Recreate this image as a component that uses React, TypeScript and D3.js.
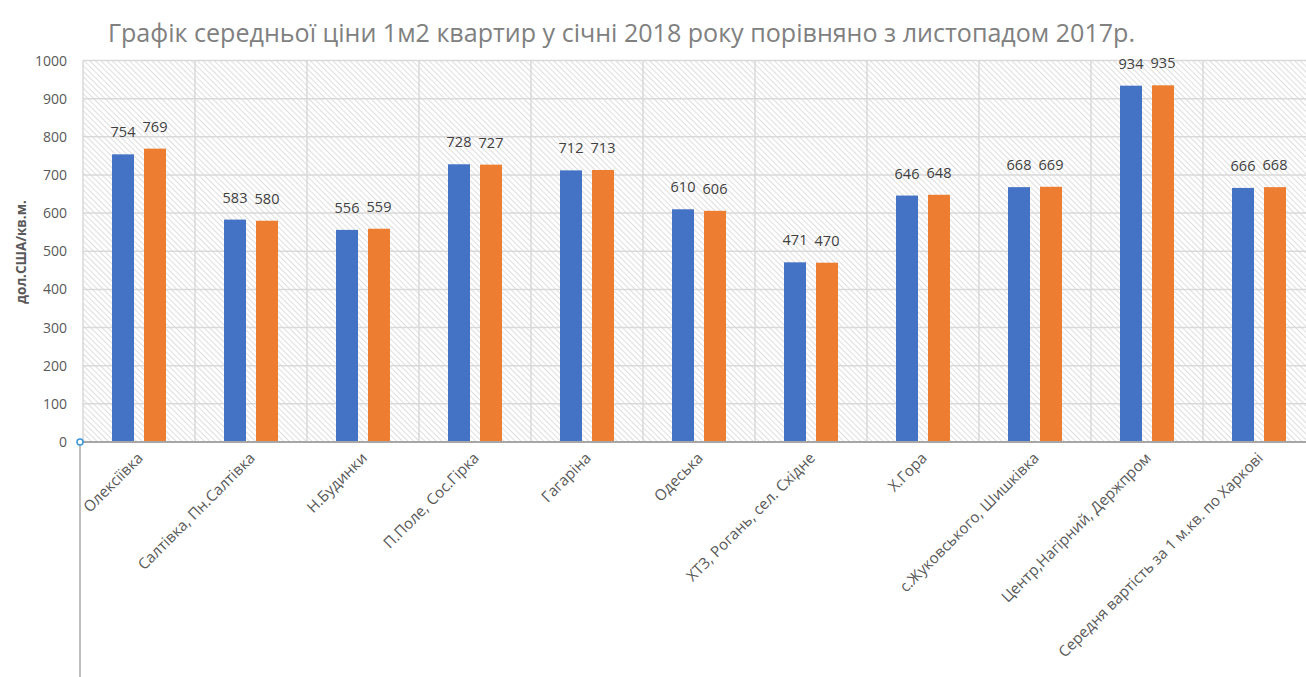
import React from 'react';
import { scaleBand, scaleLinear, range } from 'd3';

const districts = [
  'Олексіївка',
  'Салтівка, Пн.Салтівка',
  'Н.Будинки',
  'П.Поле, Сос.Гірка',
  'Гагаріна',
  'Одеська',
  'ХТЗ, Рогань, сел. Східне',
  'Х.Гора',
  'с.Жуковського, Шишківка',
  'Центр,Нагірний, Держпром',
  'Середня вартість за 1 м.кв. по Харкові',
];
const november2017 = [754, 583, 556, 728, 712, 610, 471, 646, 668, 934, 666];
const january2018 = [769, 580, 559, 727, 713, 606, 470, 648, 669, 935, 668];
const yTicks = [0, 100, 200, 300, 400, 500, 600, 700, 800, 900, 1000];

const title = 'Графік середньої ціни 1м2 квартир у січні 2018 року порівняно з листопадом 2017р.';
const yTitle = 'дол.США/кв.м.';

const W = 1306;
const H = 677;
const margin = { top: 60.5, left: 83, bottom: 442 };
const plotRight = 83 + 112 * 11;

export default function App() {
  const x = scaleBand<string>().domain(districts).range([margin.left, plotRight]);
  const y = scaleLinear().domain([0, 1000]).range([margin.bottom, margin.top]);
  const barW = 22;
  const gap = 10;
  const font = "'Open Sans', 'Noto Sans', sans-serif";

  return (
    <svg width={W} height={H} style={{ position: 'absolute', left: 0, top: 0, background: '#fff' }}>
      <defs>
        <pattern id="hatch" width="4" height="4" patternUnits="userSpaceOnUse" patternTransform="rotate(-45)">
          <rect width="4" height="4" fill="#fff" />
          <line x1="0" y1="0" x2="0" y2="4" stroke="#d6d6d6" strokeWidth="1.6" />
        </pattern>
        <clipPath id="clip">
          <rect x={0} y={0} width={W} height={H} />
        </clipPath>
      </defs>

      <text x={108} y={42} fontFamily={font} fontSize={25} fill="#808080"
        textLength={1027} lengthAdjust="spacingAndGlyphs">{title}</text>

      <g clipPath="url(#clip)">
        <rect x={margin.left} y={margin.top} width={plotRight - margin.left} height={margin.bottom - margin.top} fill="url(#hatch)" />
        {yTicks.map(t => (
          <line key={t} x1={margin.left} x2={plotRight} y1={y(t)} y2={y(t)} stroke="#d9d9d9" strokeWidth={1.5} />
        ))}
        {range(districts.length + 1).map(i => (
          <line key={i} x1={margin.left + i * x.bandwidth()} x2={margin.left + i * x.bandwidth()}
            y1={margin.top} y2={margin.bottom} stroke="#d9d9d9" strokeWidth={1.5} />
        ))}

        {districts.map((d, i) => {
          const cx = (x(d) as number) + x.bandwidth() / 2;
          const b1 = cx - gap / 2 - barW;
          const b2 = cx + gap / 2;
          return (
            <g key={d}>
              <rect x={b1} y={y(november2017[i])} width={barW} height={y(0) - y(november2017[i])} fill="#4472c4" />
              <rect x={b2} y={y(january2018[i])} width={barW} height={y(0) - y(january2018[i])} fill="#ed7d31" />
              <text x={b1 + barW / 2} y={y(november2017[i]) - 17} textAnchor="middle" fontFamily={font}
                fontSize={14.5} fill="#404040">{november2017[i]}</text>
              <text x={b2 + barW / 2} y={y(january2018[i]) - 17} textAnchor="middle" fontFamily={font}
                fontSize={14.5} fill="#404040">{january2018[i]}</text>
              <text transform={`translate(${cx + 5},${margin.bottom + 17}) rotate(-45)`} textAnchor="end"
                fontFamily={font} fontSize={15.2} fill="#595959">{d}</text>
            </g>
          );
        })}
      </g>

      <line x1={margin.left - 3} x2={plotRight} y1={margin.bottom} y2={margin.bottom} stroke="#a6a6a6" strokeWidth={2} />
      <line x1={margin.left - 3} x2={margin.left - 3} y1={margin.bottom} y2={H} stroke="#bfbfbf" strokeWidth={2} />
      <circle cx={margin.left - 3} cy={margin.bottom} r={3} fill="#fff" stroke="#3b95d9" strokeWidth={1.5} />

      {yTicks.map(t => (
        <text key={t} x={67} y={y(t) + 5} textAnchor="end" fontFamily={font} fontSize={14} fill="#595959">{t}</text>
      ))}

      <text transform={`translate(26,252) rotate(-90)`} textAnchor="middle" fontFamily={font} fontSize={13.5}
        fontWeight="bold" fill="#595959">{yTitle}</text>
    </svg>
  );
}
